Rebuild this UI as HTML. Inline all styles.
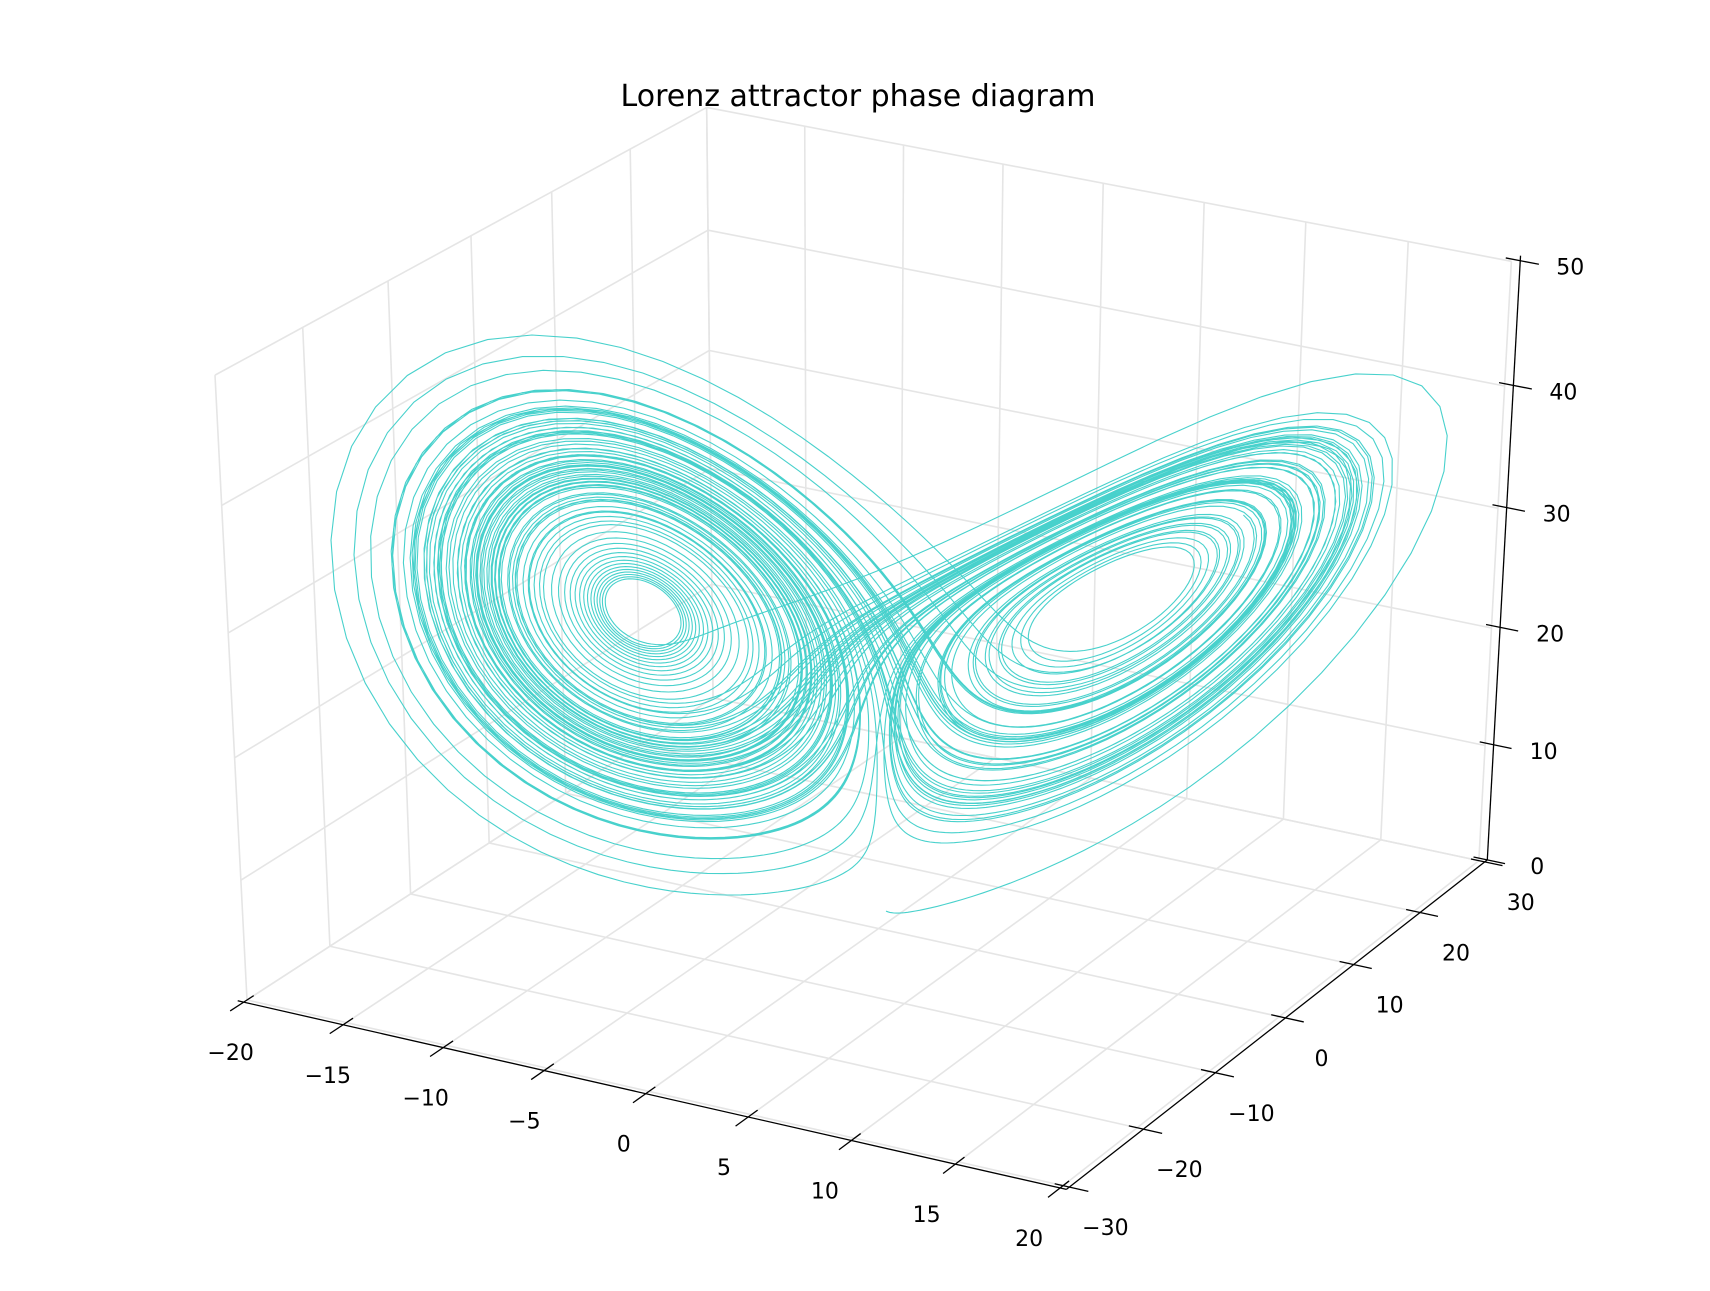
<!DOCTYPE html>
<html><head><meta charset="utf-8"><style>
html,body{margin:0;padding:0;background:#fff;}
svg{display:block;font-family:"DejaVu Sans","Liberation Sans",sans-serif;}
</style></head><body>
<svg id="chart" width="1710" height="1291" viewBox="0 0 1710 1291" xmlns="http://www.w3.org/2000/svg">
<rect width="1710" height="1291" fill="#fff"/>
<text x="858" y="106" font-size="30" text-anchor="middle" fill="#000">Lorenz attractor phase diagram</text>
<g id="grid"></g>
<g id="axes"></g>
<g id="series"></g>
</svg>
<script>
// Lorenz system parameters (data)
const params = [10, 28, 2.667];          // sigma, rho, beta
const initialState = [0.0, 1.0, 1.05];   // x0, y0, z0
const stepSettings = [0.01, 10000];      // dt, step count
const xTicks = [-20, -15, -10, -5, 0, 5, 10, 15, 20];
const yTicks = [-30, -20, -10, 0, 10, 20, 30];
const zTicks = [0, 10, 20, 30, 40, 50];
const xLim = [-20, 20], yLim = [-30, 30], zLim = [0, 50];

// projection fit from box corners (normalized coords -> screen)
const corr = [
  [0,0,0,250,990],[1,0,0,1060,1198],[1,1,0,1483,840],[0,1,0,709,716],
  [0,0,1,215,373],[0,1,1,708,100],[1,1,1,1510,271]
];
function solve(A,b){const n=b.length;for(let i=0;i<n;i++){let m=i;for(let k=i+1;k<n;k++)if(Math.abs(A[k][i])>Math.abs(A[m][i]))m=k;[A[i],A[m]]=[A[m],A[i]];[b[i],b[m]]=[b[m],b[i]];for(let k=i+1;k<n;k++){const f=A[k][i]/A[i][i];for(let j=i;j<n;j++)A[k][j]-=f*A[i][j];b[k]-=f*b[i];}}const x=new Array(n).fill(0);for(let i=n-1;i>=0;i--){let s=b[i];for(let j=i+1;j<n;j++)s-=A[i][j]*x[j];x[i]=s/A[i][i];}return x;}
const rows=[],rhs=[];
corr.forEach(([X,Y,Z,u,v])=>{rows.push([X,Y,Z,1,0,0,0,0,-u*X,-u*Y,-u*Z]);rhs.push(u);rows.push([0,0,0,0,X,Y,Z,1,-v*X,-v*Y,-v*Z]);rhs.push(v);});
const N=[],B=[];for(let i=0;i<11;i++){N.push(new Array(11).fill(0));B.push(0);}
rows.forEach((r,k)=>{for(let i=0;i<11;i++){B[i]+=r[i]*rhs[k];for(let j=0;j<11;j++)N[i][j]+=r[i]*r[j];}});
const P=solve(N,B);
function proj(x,y,z){const X=(x-xLim[0])/(xLim[1]-xLim[0]),Y=(y-yLim[0])/(yLim[1]-yLim[0]),Z=(z-zLim[0])/(zLim[1]-zLim[0]);const w=P[8]*X+P[9]*Y+P[10]*Z+1;return[(P[0]*X+P[1]*Y+P[2]*Z+P[3])/w,(P[4]*X+P[5]*Y+P[6]*Z+P[7])/w];}
const NS="http://www.w3.org/2000/svg";
function line(g,a,b,stroke,w){const l=document.createElementNS(NS,"line");l.setAttribute("x1",a[0]);l.setAttribute("y1",a[1]);l.setAttribute("x2",b[0]);l.setAttribute("y2",b[1]);l.setAttribute("stroke",stroke);l.setAttribute("stroke-width",w);g.appendChild(l);return l;}
function text(g,p,s){const t=document.createElementNS(NS,"text");t.setAttribute("x",p[0]);t.setAttribute("y",p[1]+8);t.setAttribute("font-size","22");t.setAttribute("text-anchor","middle");t.textContent=s;g.appendChild(t);return t;}
const fmt=v=>v<0?"\u2212"+Math.abs(v):String(v);
const grid=document.getElementById("grid"),axes=document.getElementById("axes"),gc="#e5e5e5";
xTicks.forEach(x=>{const l=line(grid,proj(x,yLim[0],0),proj(x,yLim[1],0),gc,1.6);

});
yTicks.forEach(y=>{const l=line(grid,proj(xLim[0],y,0),proj(xLim[1],y,0),gc,1.6);

});
yTicks.forEach(y=>{const l=line(grid,proj(xLim[0],y,0),proj(xLim[0],y,zLim[1]),gc,1.6);

});
zTicks.forEach(z=>{const l=line(grid,proj(xLim[0],yLim[0],z),proj(xLim[0],yLim[1],z),gc,1.6);

});
xTicks.forEach(x=>{const l=line(grid,proj(x,yLim[1],0),proj(x,yLim[1],zLim[1]),gc,1.6);

});
zTicks.forEach(z=>{const l=line(grid,proj(xLim[0],yLim[1],z),proj(xLim[1],yLim[1],z),gc,1.6);

});
let al=line(axes,proj(-20.3,-30.4,0),proj(20.3,-30.4,0),"#000",1.3);


al=line(axes,proj(20.3,-30.4,0),proj(20.3,30.4,0),"#000",1.3);


al=line(axes,proj(20.3,30.4,0),proj(20.3,30.4,50.4),"#000",1.3);


xTicks.forEach(x=>{const t=line(axes,proj(x,-29.2,0),proj(x,-32,0),"#000",1.3);


const p=proj(x,-30.4,0),f=(x+20)/40;
const lb=text(axes,[p[0]-13-18*f,p[1]+50],fmt(x));

});
yTicks.forEach(y=>{const t=line(axes,proj(19.6,y,0),proj(21.2,y,0),"#000",1.3);


const p=proj(20.3,y,0);
const lb=text(axes,[p[0]+36,p[1]+40],fmt(y));

});
zTicks.forEach(z=>{const t=line(axes,proj(19.6,30.4,z),proj(21.2,30.4,z),"#000",1.3);


const p=proj(20.3,30.4,z);
const lb=text(axes,[p[0]+50,p[1]+6],fmt(z));

});
// integrate Lorenz trajectory (RK4)
const [s,r,b]=params,[dt,steps]=stepSettings;
function f(v){return[s*(v[1]-v[0]),r*v[0]-v[1]-v[0]*v[2],v[0]*v[1]-b*v[2]];}
let st=initialState.slice();const pts=[proj(st[0],st[1],st[2])];
for(let i=0;i<steps;i++){
  const k1=f(st),k2=f(st.map((v,j)=>v+k1[j]*dt/2)),k3=f(st.map((v,j)=>v+k2[j]*dt/2)),k4=f(st.map((v,j)=>v+k3[j]*dt));
  st=st.map((v,j)=>v+dt/6*(k1[j]+2*k2[j]+2*k3[j]+k4[j]));
  pts.push(proj(st[0],st[1],st[2]));
}
const path=document.createElementNS(NS,"path");
path.setAttribute("d","M"+pts.map(p=>p[0].toFixed(1)+","+p[1].toFixed(1)).join("L"));
path.setAttribute("fill","none");path.setAttribute("stroke","#48d1cc");path.setAttribute("stroke-width","1.1");


document.getElementById("series").appendChild(path);
</script>
</body></html>
